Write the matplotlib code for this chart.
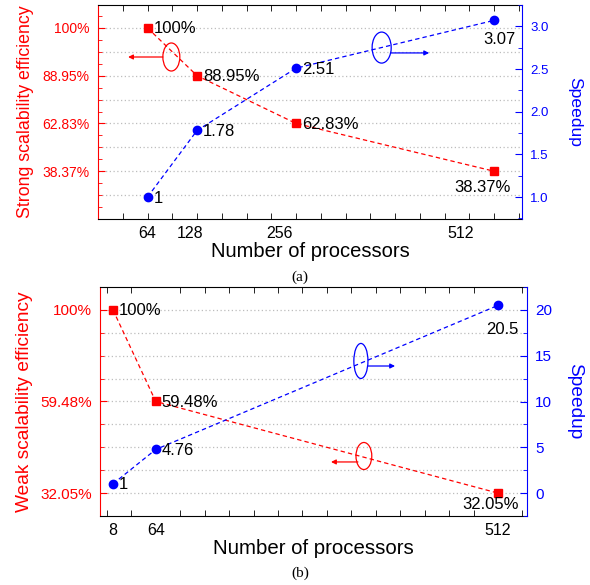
import matplotlib
matplotlib.use('Agg')
import matplotlib.pyplot as plt
import numpy as np
from matplotlib.patches import Ellipse

plt.rcParams['font.family'] = ['Liberation Sans', 'DejaVu Sans']

# (a) strong scaling
procs_a = [64, 128, 256, 512]
eff_a = [100, 88.95, 62.83, 38.37]
speed_a = [1, 1.78, 2.51, 3.07]
xticklabels_a = ['64', '128', '256', '512']

# (b) weak scaling
procs_b = [8, 64, 512]
eff_b = [100, 59.48, 32.05]
speed_b = [1, 4.76, 20.5]
xticklabels_b = ['8', '64', '512']

RED = '#ff0000'
BLUE = '#0000ff'


def level_scale(levels):
    # the efficiency axis puts its labelled levels at equal spacing
    lv = np.sort(np.asarray(levels, float))
    pos = np.arange(len(lv), dtype=float)
    lo = lv[1] - lv[0]
    hi = lv[-1] - lv[-2]

    def fwd(v):
        v = np.asarray(v, float)
        return np.where(v < lv[0], (v - lv[0]) / lo,
                        np.where(v > lv[-1], pos[-1] + (v - lv[-1]) / hi,
                                 np.interp(v, lv, pos)))

    def inv(p):
        p = np.asarray(p, float)
        return np.where(p < 0, lv[0] + p * lo,
                        np.where(p > pos[-1], lv[-1] + (p - pos[-1]) * hi,
                                 np.interp(p, pos, lv)))
    return fwd, inv


def draw_panel(ax, procs, eff, speed, xlim, xtick_pos, xtick_lab, pos_lim, grid_pos,
               speed_lim, speed_major, speed_minor, eff_label, fs, eff_offs, speed_offs,
               lab_x, xlab_y):
    ax2 = ax.twinx()
    fwd, inv = level_scale(eff)
    ax.set_yscale('function', functions=(fwd, inv))
    ax.set_ylim(float(inv(pos_lim[0])), float(inv(pos_lim[1])))
    ax.set_yticks(eff, [f'{v:g}%' for v in eff])
    ax.set_yticks(inv(np.arange(pos_lim[0], pos_lim[1], 0.25)), minor=True)
    for p in grid_pos:
        ax.axhline(float(inv(p)), color='#bdbdbd', ls=(0, (1, 2)), lw=0.9, zorder=0)

    ax.set_xlim(xlim)
    ax.set_xticks(xtick_pos, xtick_lab)
    ax.set_xticks(np.arange(0, xlim[1], 32), minor=True)
    ax.tick_params(axis='x', which='major', length=0, labelsize=fs['xt'], pad=5)
    ax.tick_params(axis='x', which='minor', direction='in', length=4, top=True)
    ax.tick_params(axis='y', which='both', direction='in', colors=RED,
                   labelsize=fs['yl'], pad=6)
    ax.tick_params(axis='y', which='major', length=5)
    ax.tick_params(axis='y', which='minor', length=3)

    ax2.set_ylim(speed_lim)
    ax2.set_yticks(speed_major)
    ax2.set_yticks(speed_minor, minor=True)
    ax2.tick_params(axis='y', which='both', direction='in', colors=BLUE,
                    labelsize=fs['yr'], pad=6)
    ax2.tick_params(axis='y', which='major', length=5)
    ax2.tick_params(axis='y', which='minor', length=3)

    ax.spines['left'].set_color(RED)
    ax.spines['right'].set_visible(False)
    for s in ['left', 'top', 'bottom']:
        ax2.spines[s].set_visible(False)
    ax2.spines['right'].set_color(BLUE)

    ax.plot(procs, eff, color=RED, ls=(0, (3.5, 2.5)), lw=0.9,
            marker='s', ms=5.5, mfc=RED, mec=RED)
    ax2.plot(procs, speed, color=BLUE, ls=(0, (3.5, 2.5)), lw=0.9,
             marker='o', ms=6, mfc=BLUE, mec=BLUE)

    for x, v, (dx, dy, ha) in zip(procs, eff, eff_offs):
        ax.annotate(f'{v:g}%', (x, v), xytext=(dx, dy), textcoords='offset pixels',
                    ha=ha, va='center', fontsize=12)
    for x, v, (dx, dy, ha) in zip(procs, speed, speed_offs):
        ax2.annotate(f'{v:g}', (x, v), xytext=(dx, dy), textcoords='offset pixels',
                     ha=ha, va='center', fontsize=12)

    ax.set_ylabel(eff_label, color=RED, fontsize=fs['ll'], va='center')
    ax.yaxis.set_label_coords(lab_x[0], 0.5)
    ax2.set_ylabel('Speedup', color=BLUE, fontsize=fs['lr'], rotation=270, va='center')
    ax2.yaxis.set_label_coords(lab_x[1], 0.5)
    ax.set_xlabel('Number of processors', fontsize=fs['xl'], va='center')
    ax.xaxis.set_label_coords(0.5, xlab_y)
    return ax2


def marker_ring(ax, center, w, h, start, end, color):
    ax.add_patch(Ellipse(center, w, h, transform=ax.transAxes, fill=False,
                         ec=color, lw=0.9))
    ax.annotate('', xy=end, xytext=start, xycoords='axes fraction',
                arrowprops=dict(arrowstyle='-|>', color=color, lw=0.9,
                                mutation_scale=7, shrinkA=0, shrinkB=0))


fig = plt.figure(figsize=(5.9, 5.85), dpi=100)
ax_a = fig.add_axes([98 / 590, 1 - 219 / 585, 424 / 590, 214 / 585])
ax_b = fig.add_axes([100 / 590, 1 - 516 / 585, 427 / 590, 229 / 585])

tw_a = draw_panel(ax_a, procs_a, eff_a, speed_a, (0, 548), [63, 119, 235, 469], xticklabels_a,
                  (-1.0, 3.48), np.arange(-0.5, 3.01, 0.5),
                  (0.743, 3.246), np.arange(1.0, 3.01, 0.5), np.arange(0.75, 3.26, 0.25),
                  'Strong scalability efficiency',
                  dict(xt=11.5, yl=10, yr=9.5, ll=12.8, lr=12.6, xl=14.5),
                  [(6, -1, 'left'), (6, -1, 'left'), (6, -1, 'left'), (-12, -16, 'center')],
                  [(6, -1, 'left'), (6, -1, 'left'), (6, -1, 'left'), (5, -19, 'center')],
                  (-0.172, 1.125), -0.154)

tw_b = draw_panel(ax_b, procs_b, eff_b, speed_b, (-9, 550), procs_b, xticklabels_b,
                  (-0.25, 2.25), np.arange(0, 2.01, 0.25),
                  (-2.51, 22.51), np.arange(0, 20.1, 5), np.arange(-2.5, 22.6, 2.5),
                  'Weak scalability efficiency',
                  dict(xt=11.5, yl=11, yr=11, ll=13.8, lr=13.8, xl=14.7),
                  [(6, -1, 'left'), (6, -1, 'left'), (-7, -11, 'center')],
                  [(6, -1, 'left'), (6, -1, 'left'), (4, -24, 'center')],
                  (-0.176, 1.112), -0.140)

marker_ring(tw_a, (0.173, 0.757), 0.040, 0.131, (0.153, 0.757), (0.071, 0.757), RED)
marker_ring(tw_a, (0.669, 0.801), 0.045, 0.145, (0.691, 0.776), (0.781, 0.776), BLUE)
marker_ring(tw_b, (0.611, 0.677), 0.033, 0.153, (0.628, 0.655), (0.691, 0.655), BLUE)
marker_ring(tw_b, (0.618, 0.262), 0.037, 0.118, (0.604, 0.236), (0.541, 0.236), RED)

fig.text(300 / 590, 1 - 277 / 585, '(a)', family='Liberation Serif', fontsize=11,
         ha='center', va='center')
fig.text(300 / 590, 1 - 573 / 585, '(b)', family='Liberation Serif', fontsize=11,
         ha='center', va='center')

fig.savefig('out.png', dpi=100)
